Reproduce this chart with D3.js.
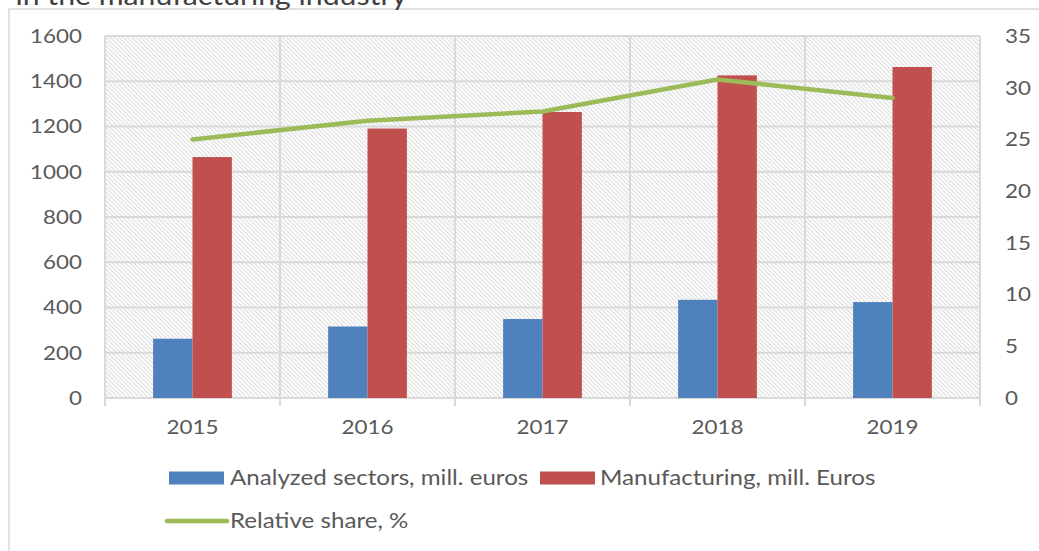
<!DOCTYPE html>
<html>
<head>
<meta charset="utf-8">
<script src="https://cdn.jsdelivr.net/npm/d3@7"></script>
<style>
  html, body { margin: 0; padding: 0; background: #ffffff; }
  svg { display: block; }
  text { font-family: Lato, "Open Sans", sans-serif; fill: #595959; }
</style>
</head>
<body>
<svg id="chart" width="1039" height="551"></svg>
<script>
const years = ["2015", "2016", "2017", "2018", "2019"];
const analyzedSectors = [262, 316, 349, 434, 424];
const manufacturing = [1065, 1191, 1264, 1426, 1463];
const relativeShare = [25.0, 26.8, 27.7, 30.8, 29.0];
const leftTicks = [0, 200, 400, 600, 800, 1000, 1200, 1400, 1600];
const rightTicks = [0, 5, 10, 15, 20, 25, 30, 35];
const seriesNames = ["Analyzed sectors, mill. euros", "Manufacturing, mill. Euros", "Relative share, %"];
const titleText = "in the manufacturing industry";

const W = 1039, H = 551;
const M = { left: 105, right: 980, top: 36, bottom: 398 };
const colors = { blue: "#4f81bd", red: "#c0504d", green: "#9bbb59", grid: "#d9d9d9" };
const SX = 1.12; // horizontal text stretch
const LSX = 1.15;

const svg = d3.select("#chart");
const defs = svg.append("defs");
const pat = defs.append("pattern")
  .attr("id", "hatch").attr("patternUnits", "userSpaceOnUse")
  .attr("width", 4.3).attr("height", 4.3);
pat.append("rect").attr("width", 4.3).attr("height", 4.3).attr("fill", "#ffffff");
pat.append("path")
  .attr("d", "M-1,-1 L5.3,5.3 M3.3,-1 L5.3,1 M-1,3.3 L1,5.3")
  .attr("stroke", "#d6d6d6").attr("stroke-width", 1.05);

// chart outer border
svg.append("rect").attr("x", 9).attr("y", 9).attr("width", W + 20).attr("height", H + 20)
  .attr("fill", "none").attr("stroke", colors.grid).attr("stroke-width", 1.5);

// cut-off title (cut in the reference too)
svg.append("text").attr("transform", `translate(407,5) scale(${SX},1)`).attr("text-anchor", "end")
  .attr("font-size", 27).style("fill", "#404040").text(titleText);

const x = d3.scaleBand().domain(years).range([M.left, M.right]).padding(0);
const bw = x.bandwidth();
const xSub = d3.scaleBand().domain([0, 1]).range([bw * 0.275, bw * 0.725]).padding(0);
const yL = d3.scaleLinear().domain([0, 1600]).range([M.bottom, M.top]);
const yR = d3.scaleLinear().domain([0, 35]).range([M.bottom, M.top]);

// plot area hatch
svg.append("rect").attr("x", M.left).attr("y", M.top)
  .attr("width", M.right - M.left).attr("height", M.bottom - M.top)
  .attr("fill", "url(#hatch)");

// horizontal gridlines
svg.append("g").selectAll("line").data(leftTicks).join("line")
  .attr("x1", M.left).attr("x2", M.right)
  .attr("y1", d => yL(d)).attr("y2", d => yL(d))
  .attr("stroke", colors.grid).attr("stroke-width", 2);

// vertical gridlines at category boundaries (with tick marks below)
const bounds = years.map(d => x(d)).concat([M.right]);
svg.append("g").selectAll("line").data(bounds).join("line")
  .attr("x1", d => d).attr("x2", d => d)
  .attr("y1", M.top).attr("y2", M.bottom + 8)
  .attr("stroke", colors.grid).attr("stroke-width", 2);

// bars
const barData = [];
years.forEach((yr, i) => {
  barData.push({ yr, s: 0, v: analyzedSectors[i], c: colors.blue });
  barData.push({ yr, s: 1, v: manufacturing[i], c: colors.red });
});
svg.append("g").selectAll("rect").data(barData).join("rect")
  .attr("x", d => x(d.yr) + xSub(d.s))
  .attr("width", xSub.bandwidth())
  .attr("y", d => yL(d.v))
  .attr("height", d => yL(0) - yL(d.v))
  .attr("fill", d => d.c);

// line
const line = d3.line().x((d, i) => x(years[i]) + bw / 2).y(d => yR(d));
svg.append("path").datum(relativeShare)
  .attr("d", line).attr("fill", "none")
  .attr("stroke", colors.green).attr("stroke-width", 4.5)
  .attr("stroke-linecap", "round").attr("stroke-linejoin", "round");

// axes
const leftAxis = d3.axisLeft(yL).tickValues(leftTicks).tickFormat(d3.format("d")).tickSize(0).tickPadding(0);
const gL = svg.append("g").attr("transform", `translate(${M.left - 23},0)`).call(leftAxis);
const rightAxis = d3.axisRight(yR).tickValues(rightTicks).tickFormat(d3.format("d")).tickSize(0).tickPadding(0);
const gR = svg.append("g").attr("transform", `translate(${M.right + 25},0)`).call(rightAxis);
const bottomAxis = d3.axisBottom(x).tickSize(0).tickPadding(0);
const gB = svg.append("g").attr("transform", `translate(0,${M.bottom + 22})`).call(bottomAxis);
[gL, gR, gB].forEach(g => {
  g.select(".domain").remove();
  g.selectAll("text").attr("font-size", 20).style("fill", "#595959")
    .attr("transform", `scale(${SX},1)`);
});
gB.selectAll("text").attr("dy", "0.71em");

// legend
const lg = svg.append("g");
const legendItems = [
  { name: seriesNames[0], type: "rect", c: colors.blue, sx: 169, sy: 478, tx: 230 },
  { name: seriesNames[1], type: "rect", c: colors.red, sx: 540, sy: 478, tx: 600 },
  { name: seriesNames[2], type: "line", c: colors.green, sx: 167, sy: 521, tx: 230 }
];
legendItems.forEach(it => {
  if (it.type === "rect") {
    lg.append("rect").attr("x", it.sx).attr("y", it.sy - 6.5).attr("width", 55).attr("height", 13).attr("fill", it.c);
  } else {
    lg.append("line").attr("x1", it.sx).attr("x2", it.sx + 60).attr("y1", it.sy).attr("y2", it.sy)
      .attr("stroke", it.c).attr("stroke-width", 4.5).attr("stroke-linecap", "round");
  }
  lg.append("text").attr("transform", `translate(${it.tx},${it.sy}) scale(${LSX},1)`)
    .attr("dy", "0.35em").attr("font-size", 21).text(it.name);
});
</script>
</body>
</html>
